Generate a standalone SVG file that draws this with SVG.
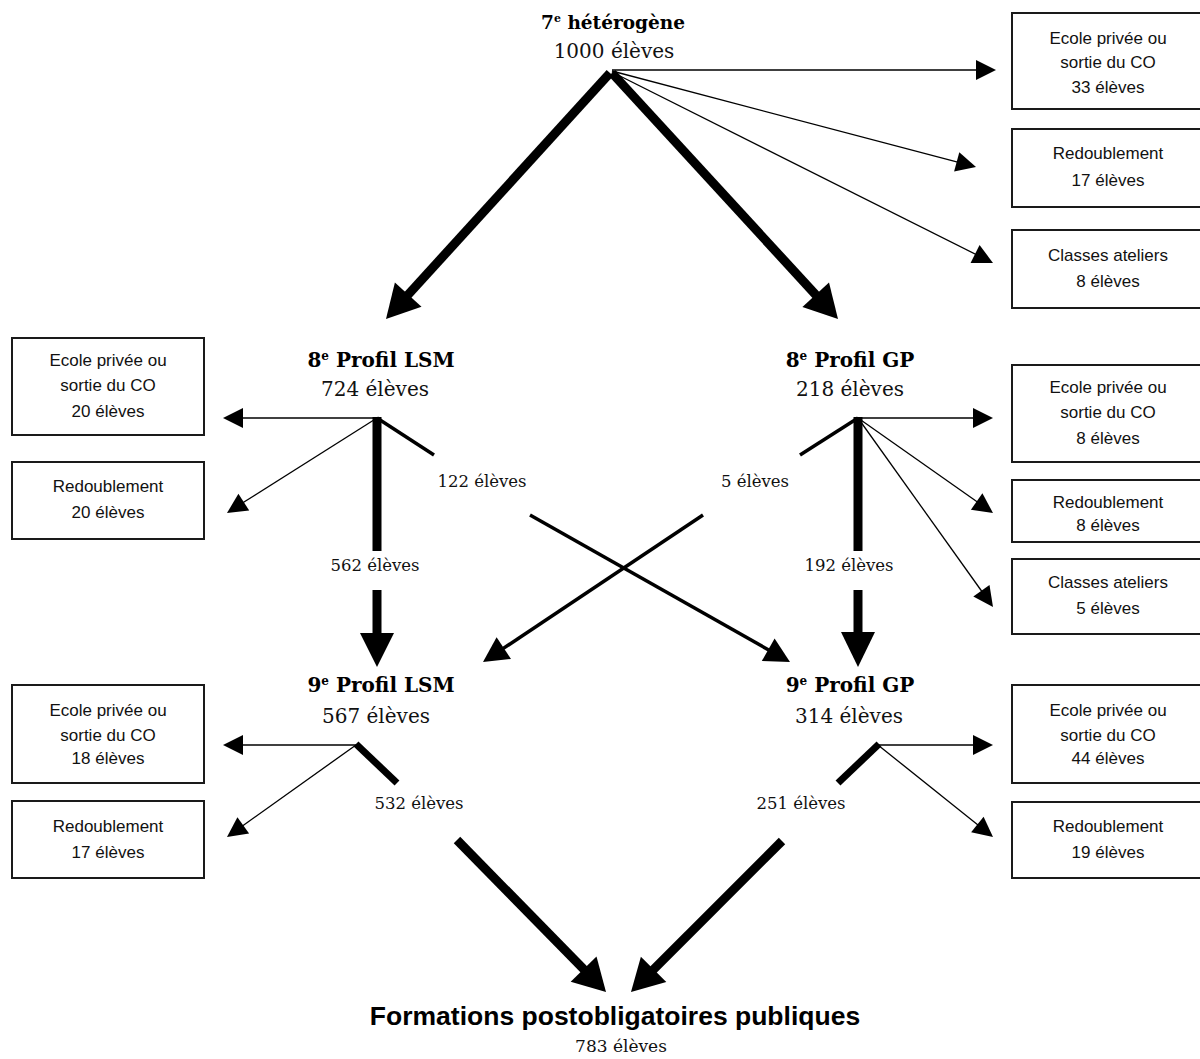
<svg xmlns="http://www.w3.org/2000/svg" width="1200" height="1059" viewBox="0 0 1200 1059">
<style>
.bx{fill:#fff;stroke:#1a1a1a;stroke-width:2}
.bt{font-family:"Liberation Sans",Arial,sans-serif;font-size:17px;fill:#111;text-anchor:middle}
.ti{font-family:"DejaVu Serif",serif;font-weight:bold;font-size:20px;fill:#000;text-anchor:middle}
.nm{font-family:"DejaVu Serif",serif;font-size:20px;fill:#111;text-anchor:middle}
.lb{font-family:"DejaVu Serif",serif;font-size:16.5px;fill:#111;text-anchor:middle}
.thin{stroke:#000;stroke-width:1.3;fill:none}
.mid{stroke:#000;stroke-width:3.5;fill:none}
.thick{stroke:#000;stroke-width:9;fill:none}
.th7{stroke:#000;stroke-width:7;fill:none}
.hd{fill:#000}
</style>
<rect width="1200" height="1059" fill="#fff"/>

<g id="n7">
<text class="ti" x="613" y="29" style="font-size:18.5px">7<tspan font-size="11" dy="-7">e</tspan><tspan dy="7"> hétérogène</tspan></text>
<text class="nm" x="614" y="58">1000 élèves</text>
</g>

<g id="n8lsm">
<text class="ti" x="381" y="367">8<tspan font-size="12" dy="-7">e</tspan><tspan dy="7"> Profil LSM</tspan></text>
<text class="nm" x="375" y="396">724 élèves</text>
</g>
<g id="n8gp">
<text class="ti" x="850" y="367">8<tspan font-size="12" dy="-7">e</tspan><tspan dy="7"> Profil GP</tspan></text>
<text class="nm" x="850" y="396">218 élèves</text>
</g>
<g id="n9lsm">
<text class="ti" x="381" y="692">9<tspan font-size="12" dy="-7">e</tspan><tspan dy="7"> Profil LSM</tspan></text>
<text class="nm" x="376" y="723">567 élèves</text>
</g>
<g id="n9gp">
<text class="ti" x="850" y="692">9<tspan font-size="12" dy="-7">e</tspan><tspan dy="7"> Profil GP</tspan></text>
<text class="nm" x="849" y="723">314 élèves</text>
</g>
<g id="nfinal">
<text x="615" y="1025" style="font-family:'Liberation Sans',Arial,sans-serif;font-weight:bold;font-size:26.5px;text-anchor:middle;fill:#000">Formations postobligatoires publiques</text>
<text class="nm" x="621" y="1052" style="font-size:17px">783 élèves</text>
</g>

<g id="b7priv"><rect class="bx" x="1012" y="13" width="200" height="96"/>
<text class="bt" x="1108" y="44">Ecole privée ou</text><text class="bt" x="1108" y="68">sortie du CO</text><text class="bt" x="1108" y="93">33 élèves</text></g>
<g id="b7red"><rect class="bx" x="1012" y="129" width="200" height="78"/>
<text class="bt" x="1108" y="159">Redoublement</text><text class="bt" x="1108" y="186">17 élèves</text></g>
<g id="b7cla"><rect class="bx" x="1012" y="230" width="200" height="78"/>
<text class="bt" x="1108" y="261">Classes ateliers</text><text class="bt" x="1108" y="287">8 élèves</text></g>

<g id="b8lpriv"><rect class="bx" x="12" y="338" width="192" height="97"/>
<text class="bt" x="108" y="366">Ecole privée ou</text><text class="bt" x="108" y="391">sortie du CO</text><text class="bt" x="108" y="417">20 élèves</text></g>
<g id="b8lred"><rect class="bx" x="12" y="462" width="192" height="77"/>
<text class="bt" x="108" y="492">Redoublement</text><text class="bt" x="108" y="518">20 élèves</text></g>

<g id="b8gpriv"><rect class="bx" x="1012" y="365" width="200" height="97"/>
<text class="bt" x="1108" y="393">Ecole privée ou</text><text class="bt" x="1108" y="418">sortie du CO</text><text class="bt" x="1108" y="444">8 élèves</text></g>
<g id="b8gred"><rect class="bx" x="1012" y="480" width="200" height="62"/>
<text class="bt" x="1108" y="508">Redoublement</text><text class="bt" x="1108" y="531">8 élèves</text></g>
<g id="b8gcla"><rect class="bx" x="1012" y="559" width="200" height="75"/>
<text class="bt" x="1108" y="588">Classes ateliers</text><text class="bt" x="1108" y="614">5 élèves</text></g>

<g id="b9lpriv"><rect class="bx" x="12" y="685" width="192" height="98"/>
<text class="bt" x="108" y="716">Ecole privée ou</text><text class="bt" x="108" y="741">sortie du CO</text><text class="bt" x="108" y="764">18 élèves</text></g>
<g id="b9lred"><rect class="bx" x="12" y="801" width="192" height="77"/>
<text class="bt" x="108" y="832">Redoublement</text><text class="bt" x="108" y="858">17 élèves</text></g>

<g id="b9gpriv"><rect class="bx" x="1012" y="685" width="200" height="98"/>
<text class="bt" x="1108" y="716">Ecole privée ou</text><text class="bt" x="1108" y="741">sortie du CO</text><text class="bt" x="1108" y="764">44 élèves</text></g>
<g id="b9gred"><rect class="bx" x="1012" y="802" width="200" height="76"/>
<text class="bt" x="1108" y="832">Redoublement</text><text class="bt" x="1108" y="858">19 élèves</text></g>

<g id="connectors">
<!-- from 7e -->
<line class="thick" x1="610" y1="73" x2="404.2" y2="299"/>
<polygon class="hd" points="386,319 421.5,306.7 394.9,282.5"/>
<line class="thick" x1="612" y1="73" x2="819.7" y2="299.1"/>
<polygon class="hd" points="838,319 829,282.5 802.4,306.9"/>
<line class="thin" x1="612" y1="70" x2="978" y2="70" style="stroke-width:1.6"/>
<polygon class="hd" points="996,70 976,60 976,80"/>
<line class="thin" x1="612" y1="71" x2="960.5" y2="162.9"/>
<polygon class="hd" points="976,167 954.1,171.5 959.3,152.2"/>
<line class="thin" x1="612" y1="72" x2="978.7" y2="255.8"/>
<polygon class="hd" points="993,263 970.6,262.9 979.6,245"/>

<!-- from 8e LSM -->
<line class="thin" x1="377" y1="418" x2="241" y2="418" style="stroke-width:1.6"/>
<polygon class="hd" points="223,418 243,408 243,428"/>
<line class="thin" x1="377" y1="418" x2="240.4" y2="504.3"/>
<polygon class="hd" points="227,513 249.2,510.5 238.4,493.7"/>
<line class="thick" x1="377" y1="417" x2="377" y2="551"/>
<line class="mid" x1="377" y1="418" x2="434" y2="455"/>
<line class="thick" x1="377" y1="590" x2="377" y2="636"/>
<polygon class="hd" points="377,667 360,633 394,633"/>
<line class="mid" x1="530" y1="515" x2="772.6" y2="652.2"/>
<polygon class="hd" points="790,662 761.8,661 774.6,638.4"/>

<!-- from 8e GP -->
<line class="thin" x1="858" y1="418" x2="975" y2="418" style="stroke-width:1.6"/>
<polygon class="hd" points="993,418 973,408 973,428"/>
<line class="thin" x1="858" y1="418" x2="979.9" y2="503.8"/>
<polygon class="hd" points="993,513 970.9,509.7 982.4,493.3"/>
<line class="thin" x1="858" y1="418" x2="983.7" y2="594"/>
<polygon class="hd" points="993,607 973.3,596.5 989.5,584.9"/>
<line class="thick" x1="858" y1="417" x2="858" y2="551"/>
<line class="mid" x1="858" y1="418" x2="800" y2="455"/>
<line class="thick" x1="858" y1="590" x2="858" y2="636"/>
<polygon class="hd" points="858,667 841,632 875,632"/>
<line class="mid" x1="703" y1="515" x2="499.6" y2="650.9"/>
<polygon class="hd" points="483,662 511,658.9 496.6,637.3"/>

<!-- from 9e LSM -->
<line class="thin" x1="356" y1="745" x2="241" y2="745" style="stroke-width:1.6"/>
<polygon class="hd" points="223,745 243,735 243,755"/>
<line class="thin" x1="356" y1="745" x2="240" y2="827.7"/>
<polygon class="hd" points="227,837 249.1,833.4 237.4,817.2"/>
<line class="th7" x1="356" y1="744" x2="397" y2="783"/>
<line class="thick" x1="457" y1="840" x2="587.8" y2="973.4"/>
<polygon class="hd" points="606,992 596.5,956.6 570.7,981.8"/>

<!-- from 9e GP -->
<line class="thin" x1="878" y1="745" x2="975" y2="745" style="stroke-width:1.6"/>
<polygon class="hd" points="993,745 973,735 973,755"/>
<line class="thin" x1="878" y1="745" x2="980.5" y2="827"/>
<polygon class="hd" points="993,837 971.1,832.3 983.6,816.7"/>
<line class="th7" x1="879" y1="744" x2="838" y2="783"/>
<line class="thick" x1="782" y1="841" x2="649.4" y2="973.6"/>
<polygon class="hd" points="631,992 666.3,982.1 640.9,956.7"/>

<!-- flow labels -->
<text class="lb" x="482" y="487">122 élèves</text>
<text class="lb" x="755" y="487">5 élèves</text>
<text class="lb" x="375" y="571">562 élèves</text>
<text class="lb" x="849" y="571">192 élèves</text>
<text class="lb" x="419" y="809">532 élèves</text>
<text class="lb" x="801" y="809">251 élèves</text>
</g>
</svg>
